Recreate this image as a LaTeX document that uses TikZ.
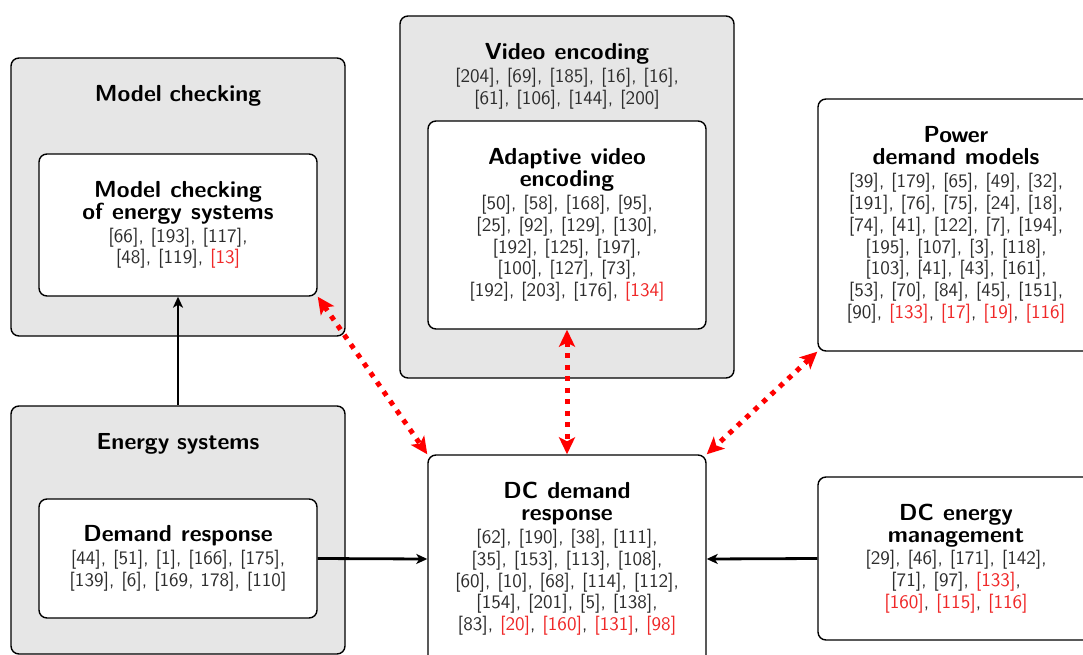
\documentclass[tikz,border=0pt]{standalone}
\usepackage{fontspec}
\newfontfamily\citefam{lmsans10-regular.otf}
\usetikzlibrary{arrows.meta}
\definecolor{boxgray}{RGB}{230,230,230}
\definecolor{citegray}{RGB}{45,45,45}
\definecolor{citered}{RGB}{240,40,40}
\definecolor{arrred}{RGB}{255,0,0}
\newcommand\ttlf{\fontsize{23.2}{21.9}\selectfont\bfseries\spaceskip=.40em\relax}
\newcommand\citf{\citefam\fontsize{19.1}{21.8}\selectfont\color{citegray}\spaceskip=.36em\relax}
\newcommand\rc[1]{\textcolor{citered}{#1}}
\newcommand\nl{\\{}}
\newcommand\boxtxt[2]{{\ttlf #1\par}\vskip1pt{\citf\leavevmode #2\par}}
\begin{document}
\begin{tikzpicture}[x=1pt,y=-1pt,font=\sffamily,
  outerbox/.style={draw,line width=1.4pt,rounded corners=8pt,fill=boxgray,inner sep=0pt},
  innerbox/.style={draw,line width=1.4pt,rounded corners=8pt,fill=white,inner sep=0pt,align=center,text width=274pt},
  titletxt/.style={inner sep=0pt,align=center,text width=320pt},
  blkarrow/.style={line width=2.8pt,-{Stealth[length=11pt,width=10pt,inset=3pt]}},
  redarrow/.style={line width=5pt,draw=arrred,dash pattern=on 5pt off 6.5pt,{Stealth[length=17pt,width=16pt,inset=4pt]}-{Stealth[length=17pt,width=16pt,inset=4pt]}}
]
\fill[white] (0,0) rectangle (1083,655);
\useasboundingbox (0,0) rectangle (1083,655);

% outer boxes
\node[outerbox,minimum width=334pt,minimum height=278pt] (mcO) at (178,197) {};
\node[outerbox,minimum width=334pt,minimum height=362pt] (veO) at (567,197) {};
\node[outerbox,minimum width=334pt,minimum height=248pt] (esO) at (178,530) {};

% outer titles
\node[titletxt,font=\sffamily\ttlf] (mcT) at (178,96) {Model checking};
\node[titletxt,font=\sffamily\ttlf] (esT) at (178,444) {Energy systems};
\node[titletxt] (veT) at (567,76.5) {\boxtxt{Video encoding}{[204], [69], [185], [16], [16],\nl [61], [106], [144], [200]}};

% inner boxes
\node[innerbox,minimum width=278pt,minimum height=142pt] (mcI) at (178,225)
  {\boxtxt{Model checking\nl of energy systems}{[66], [193], [117],\nl [48], [119], \rc{[13]}}};
\node[innerbox,minimum width=278pt,minimum height=208pt] (veI) at (567,225)
  {\boxtxt{Adaptive video\nl encoding}{[50], [58], [168], [95],\nl [25], [92], [129], [130],\nl [192], [125], [197],\nl [100], [127], [73],\nl [192], [203], [176], \rc{[134]}}};
\node[innerbox,minimum width=276pt,minimum height=252pt] (pd) at (956,225)
  {\boxtxt{Power\nl demand models}{[39], [179], [65], [49], [32],\nl [191], [76], [75], [24], [18],\nl [74], [41], [122], [7], [194],\nl [195], [107], [3], [118],\nl [103], [41], [43], [161],\nl [53], [70], [84], [45], [151],\nl [90], \rc{[133]}, \rc{[17]}, \rc{[19]}, \rc{[116]}}};
\node[innerbox,minimum width=278pt,minimum height=119pt] (drI) at (178,558.5)
  {\boxtxt{Demand response}{[44], [51], [1], [166], [175],\nl [139], [6], [169, 178], [110]}};
\node[innerbox,minimum width=278pt,minimum height=208pt] (dc) at (567,559)
  {\boxtxt{DC demand\nl response}{[62], [190], [38], [111],\nl [35], [153], [113], [108],\nl [60], [10], [68], [114], [112],\nl [154], [201], [5], [138],\nl [83], \rc{[20]}, \rc{[160]}, \rc{[131]}, \rc{[98]}}};
\node[innerbox,minimum width=276pt,minimum height=163pt] (em) at (956,558.5)
  {\boxtxt{DC energy\nl management}{[29], [46], [171], [142],\nl [71], [97], \rc{[133]},\nl \rc{[160]}, \rc{[115]}, \rc{[116]}}};

% connectors
\draw[blkarrow] (esO.north) -- (mcI.south);
\draw[blkarrow] (drI.east) -- (dc.west);
\draw[blkarrow] (em.west) -- (dc.east);
\draw[redarrow] (mcI.south east) -- (dc.north west);
\draw[redarrow] (veI.south) -- (dc.north);
\draw[redarrow] (pd.south west) -- (dc.north east);
\end{tikzpicture}
\end{document}
